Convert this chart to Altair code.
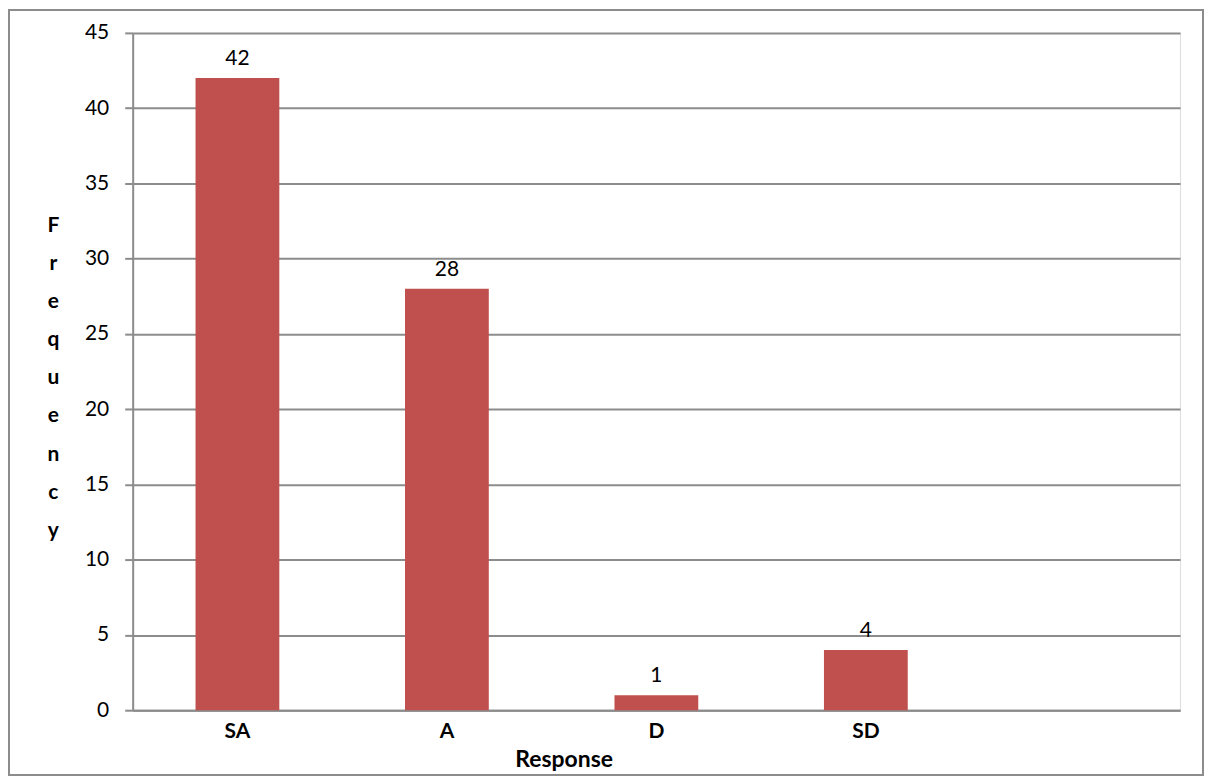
import altair as alt
import pandas as pd

categories = ["SA", "A", "D", "SD"]
frequency = [42, 28, 1, 4]
slots = categories + [" "]
y_ticks = [0, 5, 10, 15, 20, 25, 30, 35, 40, 45]

df = pd.DataFrame({"Response": categories, "Frequency": frequency})

FONT = "Lato"
GRID = "#8c8c8c"

xscale = alt.Scale(domain=slots, paddingInner=0.6, paddingOuter=0.3)
yscale = alt.Scale(domain=[0, 45], nice=False)

x_enc = alt.X(
    "Response:N",
    scale=xscale,
    sort=slots,
    axis=alt.Axis(
        title="Response",
        titleFont=FONT, titleFontSize=23, titleFontWeight="bold", titleColor="black",
        titleAnchor="start", titleX=383, titleY=49, titleBaseline="middle", titleAlign="left",
        labelFont=FONT, labelFontSize=21, labelFontWeight="bold", labelColor="black",
        labelAngle=0, labelPadding=10,
        ticks=False, domainColor=GRID, domainWidth=2, grid=False,
    ),
)
y_enc = alt.Y(
    "Frequency:Q",
    scale=yscale,
    axis=alt.Axis(
        title=["F", "r", "e", "q", "u", "e", "n", "c", "y"],
        titleAngle=0, titleFont=FONT, titleFontSize=21, titleFontWeight="bold",
        titleColor="black", titleLineHeight=38.2, titleAlign="center",
        titleBaseline="middle", titleX=-80, titleY=193,
        values=y_ticks, labelFont=FONT, labelFontSize=21, labelColor="black",
        labelPadding=16, tickSize=8, tickColor=GRID, tickWidth=2,
        domainColor=GRID, domainWidth=2,
        grid=True, gridColor=GRID, gridWidth=2,
    ),
)

bars = alt.Chart(df).mark_bar(color="#C0504D").encode(x=x_enc, y=y_enc)
labels = alt.Chart(df).mark_text(
    font=FONT, fontSize=21, color="black", baseline="bottom", dy=-9
).encode(
    x=alt.X("Response:N", scale=xscale, sort=slots),
    y=alt.Y("Frequency:Q", scale=yscale),
    text="Frequency:Q",
)
frame = alt.Chart(pd.DataFrame({"f": [0]})).mark_rect(
    fill=None, stroke="#8c8c8c", strokeWidth=2, clip=False
).encode(
    x=alt.value(-124), x2=alt.value(1073), y=alt.value(-23), y2=alt.value(744)
)

chart = alt.layer(bars, labels, frame).properties(
    width=1050, height=679,
    autosize=alt.AutoSizeParams(type="none"),
    padding={"left": 125, "top": 24, "right": 24, "bottom": 66},
).configure_view(stroke=None).configure(background="white")

chart.save("out.html", embed_options={"renderer": "svg", "actions": False})
